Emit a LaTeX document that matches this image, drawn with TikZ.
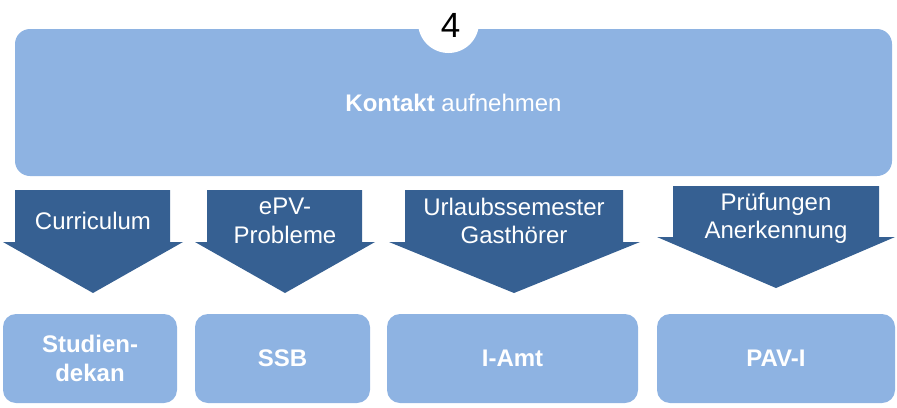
\documentclass[tikz,border=0pt]{standalone}
\usepackage{fontspec}
\setmainfont{Liberation Sans}
\definecolor{lightbox}{RGB}{142,179,226}
\definecolor{darkarrow}{RGB}{54,96,146}
\begin{document}
\begin{tikzpicture}[x=1pt,y=-1pt,
  box/.style={rectangle,rounded corners=13pt,fill=lightbox,inner sep=0pt,text=white,align=center,
    font=\fontsize{24}{29}\selectfont\bfseries},
  arrowshape/.style={fill=darkarrow},
  arrowlabel/.style={text=white,align=center,inner sep=0pt,font=\fontsize{24}{28.5}\selectfont}]
\useasboundingbox (0,0) rectangle (897,407);
% top box
\node[box,rounded corners=15pt,minimum width=877pt,minimum height=147pt,font=\fontsize{24}{28.5}\selectfont] (top) at (453.5,102.5) {\textbf{Kontakt} aufnehmen};
\node[circle,fill=white,minimum size=61pt,inner sep=0pt] (circ) at (448.5,22.5) {};
\node[inner sep=0pt,font=\fontsize{35}{40}\selectfont] (num) at (450.5,25) {4};
% arrows
\fill[arrowshape] (15,190) -- (170,190) -- (170,242) -- (183,242) -- (93,293) -- (3,242) -- (15,242) -- cycle;
\fill[arrowshape] (207,190) -- (362,190) -- (362,242) -- (375,242) -- (285,293) -- (195,242) -- (207,242) -- cycle;
\fill[arrowshape] (405,190) -- (623,190) -- (623,242) -- (640,242) -- (514,293) -- (389,242) -- (405,242) -- cycle;
\fill[arrowshape] (673,186) -- (879,186) -- (879,237) -- (895,237) -- (776,288) -- (657,237) -- (673,237) -- cycle;
\node[arrowlabel] (a1) at (93,221) {Curriculum};
\node[arrowlabel] (a2) at (285,221) {ePV-\\Probleme};
\node[arrowlabel] (a3) at (514,221) {Urlaubssemester\\Gasthörer};
\node[arrowlabel] (a4) at (776,218.5) {Prüfungen\\Anerkennung};
% bottom boxes
\node[box,minimum width=174pt,minimum height=89pt] (b1) at (90,358.5) {Studien-\\dekan};
\node[box,minimum width=175pt,minimum height=89pt] (b2) at (282.5,358.5) {SSB};
\node[box,minimum width=251pt,minimum height=89pt] (b3) at (512.5,358.5) {I-Amt};
\node[box,minimum width=238pt,minimum height=89pt] (b4) at (776,358.5) {PAV-I};
\end{tikzpicture}
\end{document}
